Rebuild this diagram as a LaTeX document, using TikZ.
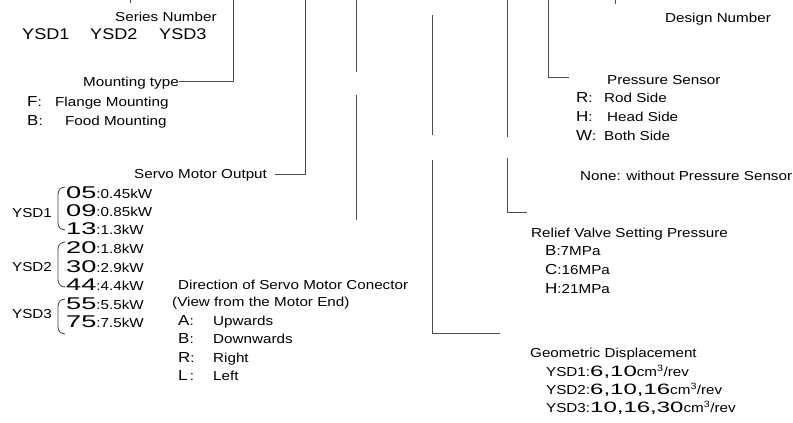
\documentclass[tikz,border=0pt]{standalone}
\usepackage{fontspec}
\setmainfont{Liberation Sans}[FakeStretch=1.17]
\newfontfamily\digitfont{Liberation Sans}[FakeStretch=1.6]
\newcommand{\nrm}{\fontsize{13}{15}\selectfont}
\newcommand{\ltr}[1]{{\fontsize{14.5}{15}\selectfont #1}}
\newcommand{\dig}[1]{{\fontsize{17}{15}\digitfont #1}}
\newcommand{\gdig}[1]{{\fontsize{15}{15}\digitfont #1}}
\begin{document}
\begin{tikzpicture}[x=1pt,y=-1pt,
  txt/.style={anchor=base west,inner sep=0pt,font=\nrm},
  lead/.style={draw=black!70,line width=0.8pt},
  brk/.style={draw=black!75,line width=0.8pt}]
\useasboundingbox (0,0) rectangle (793,423);
% ---------- left column ----------
\node[txt] (sn) at (115,21) {Series Number};
\node[txt,font=\fontsize{15.5}{17}\selectfont] (y1) at (22,39) {YSD1};
\node[txt,font=\fontsize{15.5}{17}\selectfont] (y2) at (90,39) {YSD2};
\node[txt,font=\fontsize{15.5}{17}\selectfont] (y3) at (159,39) {YSD3};
\coordinate (snt) at (130,0);
\coordinate (snb) at (130,3);
\draw[lead] (snt) -- (snb);

\node[txt] (mt) at (83,86) {Mounting type};
\node[txt] (mf) at (27,106) {\ltr{F}:};
\node[txt] (mfl) at (55,106) {Flange Mounting};
\node[txt] (mb) at (27,125) {\ltr{B}:};
\node[txt] (mbl) at (65,125) {Food Mounting};
\coordinate (mtt) at (233,0);
\coordinate (mtc) at (233,81);
\draw[lead] (mtt) -- (mtc) -- (mt.east |- mtc) ++(0,0);
\draw[lead] (mtc) -- ([xshift=2pt]mt.east |- mtc);

\node[txt] (so) at (134,178) {Servo Motor Output};
\coordinate (sot) at (305,0);
\coordinate (soc) at (305,174);
\draw[lead] (sot) -- (soc) -- ([xshift=8pt]so.east |- soc);

% brackets and outputs
\node[txt] (b1) at (12,217) {YSD1};
\node[txt] (b2) at (12,271) {YSD2};
\node[txt] (b3) at (12,318) {YSD3};
\draw[brk] (65,187) to[out=180,in=90] (58,194) -- (58,223) to[out=-90,in=180] (65,230);
\draw[brk] (65,242) to[out=180,in=90] (58,249) -- (58,280) to[out=-90,in=180] (65,287);
\draw[brk] (65,299) to[out=180,in=90] (58,306) -- (58,327) to[out=-90,in=180] (65,334);
\node[txt] (o05) at (66,198) {\dig{05}:0.45kW};
\node[txt] (o09) at (66,216) {\dig{09}:0.85kW};
\node[txt] (o13) at (66,234) {\dig{13}:1.3kW};
\node[txt] (o20) at (66,253) {\dig{20}:1.8kW};
\node[txt] (o30) at (66,272) {\dig{30}:2.9kW};
\node[txt] (o44) at (66,290) {\dig{44}:4.4kW};
\node[txt] (o55) at (66,309) {\dig{55}:5.5kW};
\node[txt] (o75) at (66,327) {\dig{75}:7.5kW};

% direction of connector
\node[txt] (dc) at (178,289) {Direction of Servo Motor Conector};
\node[txt] (dv) at (172,306) {(View from the Motor End)};
\node[txt] (da) at (178,325) {\ltr{A}:};
\node[txt] (dal) at (213,325) {Upwards};
\node[txt] (db) at (178,343) {\ltr{B}:};
\node[txt] (dbl) at (213,343) {Downwards};
\node[txt] (dr) at (178,362) {\ltr{R}:};
\node[txt] (drl) at (213,362) {Right};
\node[txt] (dl) at (178,380) {\ltr{L}\,:};
\node[txt] (dll) at (213,380) {Left};
\coordinate (dct) at (356,0);
\coordinate (dcm) at (356,72);
\coordinate (dcn) at (356,95);
\coordinate (dcb) at (356,220);
\draw[lead] (dct) -- (dcm);
\draw[lead] (dcn) -- (dcb);

% geometric displacement leader
\coordinate (gdt) at (432,15);
\coordinate (gdm) at (432,135);
\coordinate (gdn) at (432,160);
\coordinate (gdc) at (432,333);
\coordinate (gde) at (500,333);
\draw[lead] (gdt) -- (gdm);
\draw[lead] (gdn) -- (gdc) -- (gde);

% ---------- right column ----------
\node[txt] (dn) at (665,22) {Design Number};
\coordinate (dnt) at (615,0);
\coordinate (dnb) at (615,4);
\draw[lead] (dnt) -- (dnb);

\node[txt] (ps) at (607,84) {Pressure Sensor};
\coordinate (pst) at (548,0);
\coordinate (psc) at (548,77);
\coordinate (pse) at (569,77);
\draw[lead] (pst) -- (psc) -- (pse);
\node[txt] (pr) at (576,102) {\ltr{R}:};
\node[txt] (prl) at (604,102) {Rod Side};
\node[txt] (ph) at (576,121) {\ltr{H}:};
\node[txt] (phl) at (607,121) {Head Side};
\node[txt] (pw) at (576,140) {\ltr{W}:};
\node[txt] (pwl) at (604,140) {Both Side};
\node[txt] (pn) at (580,180) {None: without Pressure Sensor};

\node[txt] (rv) at (531,237) {Relief Valve Setting Pressure};
\coordinate (rvt) at (507,0);
\coordinate (rvm) at (507,137);
\coordinate (rvn) at (507,158);
\coordinate (rvc) at (507,212);
\coordinate (rve) at (527,212);
\draw[lead] (rvt) -- (rvm);
\draw[lead] (rvn) -- (rvc) -- (rve);
\node[txt] (rb) at (545,255) {\ltr{B}:7MPa};
\node[txt] (rc) at (545,274) {\ltr{C}:16MPa};
\node[txt] (rh) at (545,293) {\ltr{H}:21MPa};

\node[txt] (gd) at (530,357) {Geometric Displacement};
\node[txt] (g1) at (546,376) {YSD1:\gdig{6,10}cm\textsuperscript{3}/rev};
\node[txt] (g2) at (546,394) {YSD2:\gdig{6,10,16}cm\textsuperscript{3}/rev};
\node[txt] (g3) at (546,412) {YSD3:\gdig{10,16,30}cm\textsuperscript{3}/rev};
\end{tikzpicture}
\end{document}
